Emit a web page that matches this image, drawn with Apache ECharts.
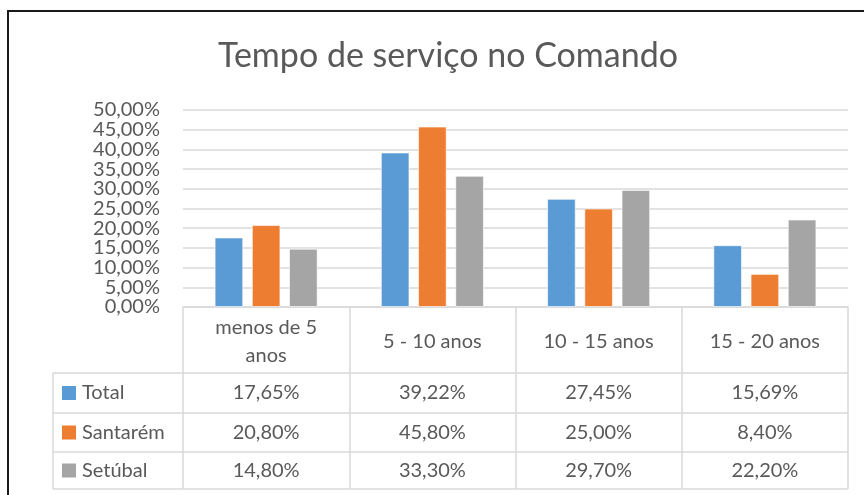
<!DOCTYPE html>
<html><head><meta charset="utf-8">
<script src="https://cdn.jsdelivr.net/npm/echarts@6/dist/echarts.min.js"></script>
<style>html,body{margin:0;padding:0;background:#fff}#c{width:864px;height:495px}</style>
</head><body><div id="c"></div>
<script>
const title = 'Tempo de serviço no Comando';
const categories = ['menos de 5\nanos', '5 - 10 anos', '10 - 15 anos', '15 - 20 anos'];
const seriesNames = ['Total', 'Santarém', 'Setúbal'];
const totalValues = [17.65, 39.22, 27.45, 15.69];
const santaremValues = [20.80, 45.80, 25.00, 8.40];
const setubalValues = [14.80, 33.30, 29.70, 22.20];
const yTicks = [0, 5, 10, 15, 20, 25, 30, 35, 40, 45, 50];
const colors = ['#5B9BD5', '#ED7D31', '#A5A5A5'];
const allValues = [totalValues, santaremValues, setubalValues];

const FONT = 'Lato';
const TXT = '#595959';
const LINE = '#d9d9d9';
const fmt = v => v.toFixed(2).replace('.', ',') + '%';

const chart = echarts.init(document.getElementById('c'), null, {renderer: 'canvas'});
const gridTop = 110, gridBottomY = 307, gridLeft = 183, gridRight = 848;
const rowLines = [373, 413, 452, 489];

chart.setOption({
  backgroundColor: '#fff',
  animation: false,
  title: {
    text: title, left: 443, textAlign: 'center', top: 34,
    textStyle: {fontFamily: FONT, fontSize: 34, fontWeight: 'normal', color: TXT}
  },
  grid: {left: gridLeft, right: 864 - gridRight, top: gridTop, bottom: 495 - gridBottomY, containLabel: false},
  xAxis: {
    type: 'category', data: categories,
    axisLine: {show: true, lineStyle: {color: LINE, width: 1.5}},
    axisTick: {show: true, length: rowLines[3] - gridBottomY, lineStyle: {color: LINE, width: 1.5}},
    axisLabel: {fontFamily: FONT, fontSize: 20, color: TXT, margin: 35, verticalAlign: 'middle', lineHeight: 28, interval: 0}
  },
  yAxis: {
    type: 'value', min: yTicks[0], max: yTicks[yTicks.length - 1], interval: 5,
    axisLine: {show: false}, axisTick: {show: false},
    splitLine: {lineStyle: {color: LINE, width: 1.5}},
    axisLabel: {show: false}
  },
  series: seriesNames.map((n, i) => ({
    name: n, type: 'bar', data: allValues[i],
    barGap: '30%', barCategoryGap: '38%',
    itemStyle: {color: colors[i], borderColor: 'rgba(255,255,255,0.6)', borderWidth: 1}
  }))
});

const g = [];
// outer frame
g.push({type: 'rect', shape: {x: 8, y: 11, width: 900, height: 520}, style: {fill: 'none', stroke: '#1a1a1a', lineWidth: 2}, silent: true});
// y-axis tick labels (positioned by the value scale)
yTicks.forEach(t => {
  const y = chart.convertToPixel({yAxisIndex: 0}, t);
  g.push({type: 'text', x: gridLeft - 23, y: y, style: {text: fmt(t), font: '20px ' + FONT, fill: TXT, verticalAlign: 'middle', align: 'right'}});
});
// table horizontal lines
rowLines.forEach(y => g.push({type: 'line', shape: {x1: 53, y1: y, x2: gridRight, y2: y}, style: {stroke: LINE, lineWidth: 1.5}}));
g.push({type: 'line', shape: {x1: 53, y1: rowLines[0], x2: 53, y2: rowLines[3]}, style: {stroke: LINE, lineWidth: 1.5}});
// rows
allValues.forEach((vals, r) => {
  const yc = (rowLines[r] + rowLines[r + 1]) / 2;
  g.push({type: 'rect', shape: {x: 62, y: yc - 7, width: 14, height: 14}, style: {fill: colors[r]}});
  g.push({type: 'text', x: 82, y: yc, style: {text: seriesNames[r], font: '20px ' + FONT, fill: TXT, verticalAlign: 'middle', align: 'left'}});
  vals.forEach((v, c) => {
    const xc = chart.convertToPixel({xAxisIndex: 0}, c);
    g.push({type: 'text', x: xc, y: yc, style: {text: fmt(v), font: '20px ' + FONT, fill: TXT, verticalAlign: 'middle', align: 'center'}});
  });
});
chart.setOption({graphic: g});
</script></body></html>
